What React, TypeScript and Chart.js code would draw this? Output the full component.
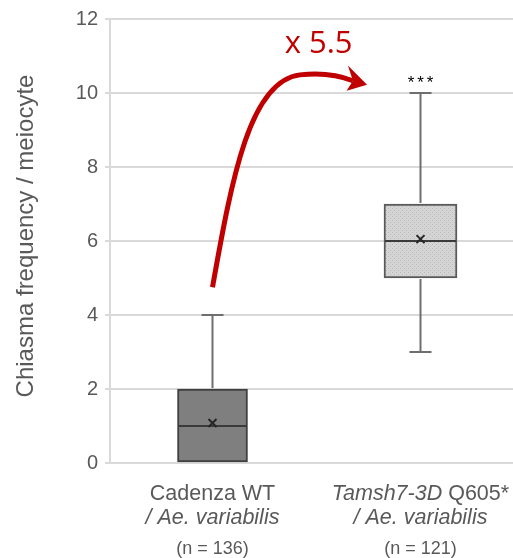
import React, { useEffect, useRef } from 'react';
import { Chart, registerables } from 'chart.js';

Chart.register(...registerables);

// ---- data ----
const categories = ['Cadenza WT', 'Tamsh7-3D Q605*'];
const lowerWhisker = [0, 3];
const q1Values = [0, 5];
const medianValues = [1, 6];
const q3Values = [2, 7];
const upperWhisker = [4, 10];
const meanValues = [1.08, 6.05];
const sampleSizes = [136, 121];
const yTicks = [0, 2, 4, 6, 8, 10, 12];
const yTitle = 'Chiasma frequency / meiocyte';
const foldChangeLabel = 'x 5.5';
const significanceLabel = '***';

const FONT = "'Liberation Sans', Arial, sans-serif";
const GREY_TEXT = '#595959';
const RED = '#c00000';
const boxWidths = [70, 73];

function makePattern(): CanvasPattern | string {
  const c = document.createElement('canvas');
  c.width = 4;
  c.height = 4;
  const g = c.getContext('2d');
  if (!g) return '#d0d0d0';
  g.fillStyle = '#d4d4d4';
  g.fillRect(0, 0, 4, 4);
  g.fillStyle = '#bcbcbc';
  g.fillRect(0, 0, 1, 1);
  g.fillRect(2, 2, 1, 1);
  const p = g.createPattern(c, 'repeat');
  return p || '#d0d0d0';
}

const boxExtras = {
  id: 'boxExtras',
  afterDatasetsDraw(chart: any) {
    const ctx = chart.ctx as CanvasRenderingContext2D;
    const xs = chart.scales.x;
    const ys = chart.scales.y;
    ctx.save();
    categories.forEach((_, i) => {
      const cx = xs.getPixelForValue(i);
      const half = boxWidths[i] / 2;
      const yMax = ys.getPixelForValue(upperWhisker[i]);
      const yMin = ys.getPixelForValue(lowerWhisker[i]);
      const yQ1 = ys.getPixelForValue(q1Values[i]);
      const yQ3 = ys.getPixelForValue(q3Values[i]);
      // whiskers
      ctx.strokeStyle = '#6e6e6e';
      ctx.lineWidth = 2;
      ctx.beginPath();
      ctx.moveTo(cx, yQ3 - 1);
      ctx.lineTo(cx, yMax);
      ctx.moveTo(cx - 11, yMax);
      ctx.lineTo(cx + 11, yMax);
      if (yMin !== yQ1) {
        ctx.moveTo(cx, yQ1 + 1);
        ctx.lineTo(cx, yMin);
        ctx.moveTo(cx - 11, yMin);
        ctx.lineTo(cx + 11, yMin);
      }
      ctx.stroke();
      // median
      const yMed = ys.getPixelForValue(medianValues[i]);
      ctx.strokeStyle = '#3a3a3a';
      ctx.lineWidth = 2;
      ctx.beginPath();
      ctx.moveTo(cx - half + 1, yMed);
      ctx.lineTo(cx + half - 1, yMed);
      ctx.stroke();
      // mean marker
      const yMean = ys.getPixelForValue(meanValues[i]);
      const m = 4;
      ctx.strokeStyle = '#262626';
      ctx.lineWidth = 2;
      ctx.beginPath();
      ctx.moveTo(cx - m, yMean - m);
      ctx.lineTo(cx + m, yMean + m);
      ctx.moveTo(cx + m, yMean - m);
      ctx.lineTo(cx - m, yMean + m);
      ctx.stroke();
    });

    // significance asterisks
    const sx = xs.getPixelForValue(1);
    const sy = ys.getPixelForValue(upperWhisker[1]);
    ctx.fillStyle = '#000000';
    ctx.font = `17px ${FONT}`;
    ctx.textAlign = 'center';
    ctx.textBaseline = 'alphabetic';
    const chars = significanceLabel.split('');
    chars.forEach((ch, k) => {
      ctx.fillText(ch, sx + (k - (chars.length - 1) / 2) * 9.5, sy - 5.5);
    });

    // curved fold-change arrow (anchored in data space)
    const P = (x: number, y: number): [number, number] => [xs.getPixelForValue(x), ys.getPixelForValue(y)];
    const p0 = P(0, 4.75);
    const c1 = P(0.094, 7.73);
    const c2 = P(0.18, 10.33);
    const p3 = P(0.42, 10.49);
    const q1 = P(0.565, 10.58);
    const p4 = P(0.675, 10.33);
    ctx.strokeStyle = RED;
    ctx.lineWidth = 5;
    ctx.lineCap = 'butt';
    ctx.beginPath();
    ctx.moveTo(p0[0], p0[1]);
    ctx.bezierCurveTo(c1[0], c1[1], c2[0], c2[1], p3[0], p3[1]);
    ctx.quadraticCurveTo(q1[0], q1[1], p4[0], p4[1]);
    ctx.stroke();
    const tip = P(0.743, 10.22);
    const up = P(0.651, 10.74);
    const notch = P(0.675, 10.33);
    const low = P(0.645, 10.06);
    ctx.fillStyle = RED;
    ctx.beginPath();
    ctx.moveTo(tip[0], tip[1]);
    ctx.lineTo(up[0], up[1]);
    ctx.lineTo(notch[0], notch[1]);
    ctx.lineTo(low[0], low[1]);
    ctx.closePath();
    ctx.fill();

    // fold change label
    const lab = P(0.51, 11.32);
    ctx.font = `31px 'Open Sans', ${FONT}`;
    ctx.textAlign = 'center';
    ctx.textBaseline = 'middle';
    ctx.fillText(foldChangeLabel, lab[0], lab[1]);
    ctx.restore();
  },
  afterDraw(chart: any) {
    const ctx = chart.ctx as CanvasRenderingContext2D;
    const xs = chart.scales.x;
    const ys = chart.scales.y;
    const bottom = chart.chartArea.bottom;
    ctx.save();
    ctx.fillStyle = GREY_TEXT;
    ctx.textBaseline = 'middle';

    // y-axis title
    ctx.save();
    ctx.translate(26, (ys.top + ys.bottom) / 2 - 5);
    ctx.rotate(-Math.PI / 2);
    ctx.textAlign = 'center';
    ctx.font = `24px ${FONT}`;
    ctx.fillText(yTitle, 0, 0);
    ctx.restore();

    const normal = `21.5px ${FONT}`;
    const italic = `italic 21.5px ${FONT}`;
    categories.forEach((cat, i) => {
      const cx = xs.getPixelForValue(i);
      const y1 = bottom + 31;
      const y2 = bottom + 55;
      const y3 = bottom + 86;
      let parts: [string, string][];
      if (i === 0) {
        parts = [[cat, normal]];
      } else {
        const sp = cat.indexOf(' ');
        parts = [[cat.slice(0, sp), italic], [cat.slice(sp), normal]];
      }
      let total = 0;
      parts.forEach(([t, f]) => {
        ctx.font = f;
        total += ctx.measureText(t).width;
      });
      let x = cx - total / 2;
      ctx.textAlign = 'left';
      parts.forEach(([t, f]) => {
        ctx.font = f;
        ctx.fillText(t, x, y1);
        x += ctx.measureText(t).width;
      });
      ctx.textAlign = 'center';
      ctx.font = italic;
      ctx.fillText('/ Ae. variabilis', cx, y2);
      ctx.font = `18px ${FONT}`;
      ctx.fillText(`(n = ${sampleSizes[i]})`, cx, y3);
    });
    ctx.restore();
  },
};

export default function App() {
  const ref = useRef<HTMLCanvasElement | null>(null);
  useEffect(() => {
    if (!ref.current) return;
    const pattern = makePattern();
    const fills = ['#7f7f7f', pattern];
    const borders = ['#3f3f3f', '#5a5a5a'];
    const chart = new Chart(ref.current, {
      type: 'bar',
      data: {
        datasets: categories.map((c, i) => ({
          label: c,
          data: [{ x: i, y: [q1Values[i], q3Values[i]] }] as any,
          backgroundColor: fills[i] as any,
          borderColor: borders[i],
          borderWidth: 2,
          borderSkipped: false,
          barThickness: boxWidths[i],
          grouped: false,
        })),
      },
      options: {
        animation: false,
        responsive: false,
        devicePixelRatio: 1,
        layout: { padding: { top: 16, bottom: 95, left: 0, right: 0 } },
        plugins: { legend: { display: false }, tooltip: { enabled: false } },
        scales: {
          x: {
            type: 'linear',
            display: false,
            offset: false,
            min: -0.4928,
            max: 1.4447,
          },
          y: {
            type: 'linear',
            min: 0,
            max: 12,
            afterBuildTicks: (scale: any) => {
              scale.ticks = yTicks.map((v) => ({ value: v }));
            },
            afterFit: (scale: any) => {
              scale.width = 110;
            },
            ticks: {
              color: GREY_TEXT,
              font: { family: FONT, size: 20 },
              padding: 7,
            },
            grid: {
              color: '#d9d9d9',
              lineWidth: 2,
              tickLength: 5,
              tickColor: '#d9d9d9',
            },
            border: { color: '#d9d9d9', width: 2 },
            title: { display: false },
          },
        },
      } as any,
      plugins: [boxExtras],
    });
    return () => chart.destroy();
  }, []);
  return (
    <div style={{ position: 'absolute', left: 0, top: 0, width: 513, height: 558, background: '#ffffff' }}>
      <canvas ref={ref} width={513} height={558} />
    </div>
  );
}
